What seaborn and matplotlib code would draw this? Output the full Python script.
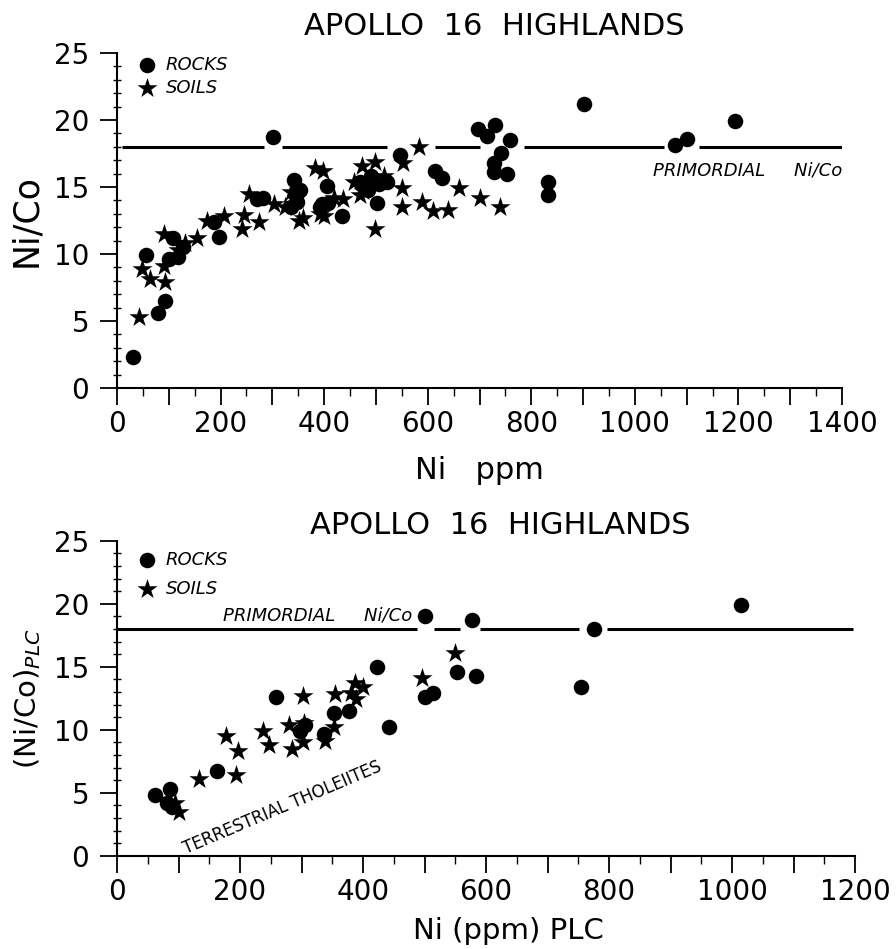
import matplotlib
matplotlib.use("Agg")
import matplotlib.pyplot as plt
import seaborn as sns
from matplotlib.ticker import MultipleLocator, FuncFormatter

# upper panel: Ni (ppm) vs Ni/Co
rock_ni = [30, 55, 80, 93, 101, 108, 117, 128, 187, 196, 270, 282, 301, 335, 341,
           345, 348, 354, 392, 396, 405, 408, 434, 470, 485, 490, 502, 506, 521,
           547, 614, 627, 697, 714, 730, 758, 742, 727, 727, 753, 833, 833, 901,
           1078, 1101, 1193]
rock_nico = [2.3, 9.9, 5.6, 6.5, 9.6, 11.2, 9.8, 10.5, 12.4, 11.3, 14.1, 14.2, 18.7,
             13.5, 15.5, 14.3, 13.9, 14.8, 13.5, 13.7, 15.1, 13.8, 12.8, 15.4, 14.8,
             15.8, 13.8, 15.2, 15.4, 17.4, 16.2, 15.7, 19.3, 18.8, 19.6, 18.5, 17.5,
             16.8, 16.1, 16.0, 15.4, 14.4, 21.2, 18.1, 18.6, 19.9]
soil_ni = [42, 48, 64, 90, 93, 90, 118, 132, 155, 174, 206, 241, 245, 254, 274, 303,
           325, 335, 351, 360, 383, 398, 392, 399, 419, 436, 457, 469, 473, 475, 499,
           498, 515, 550, 550, 553, 584, 589, 611, 640, 660, 701, 740]
soil_nico = [5.3, 8.9, 8.1, 9.1, 7.9, 11.5, 10.3, 10.8, 11.2, 12.5, 12.8, 11.9, 12.9,
             14.5, 12.4, 13.7, 13.5, 14.6, 12.5, 12.7, 16.4, 16.2, 13.0, 12.8, 14.2,
             14.1, 15.4, 14.4, 16.6, 14.7, 16.9, 11.9, 15.8, 14.9, 13.5, 16.8, 18.0,
             13.9, 13.2, 13.3, 14.9, 14.2, 13.5]

# lower panel: PLC values
plc_rock_ni = [61, 86, 81, 90, 163, 258, 298, 305, 336, 352, 377, 423, 443, 501, 501,
               514, 553, 584, 577, 754, 776, 1014]
plc_rock_nico = [4.8, 5.3, 4.2, 3.9, 6.7, 12.6, 9.9, 10.4, 9.7, 11.3, 11.5, 15.0, 10.2,
                 19.0, 12.6, 12.9, 14.6, 14.3, 18.7, 13.4, 18.0, 19.9]
plc_soil_ni = [95, 100, 133, 194, 178, 196, 238, 247, 279, 284, 303, 304, 302, 338,
               355, 352, 380, 387, 400, 389, 496, 550]
plc_soil_nico = [4.2, 3.5, 6.1, 6.4, 9.5, 8.3, 9.9, 8.8, 10.4, 8.5, 12.7, 10.5, 9.0,
                 9.1, 12.8, 10.2, 12.9, 13.7, 13.4, 12.4, 14.1, 16.1]

primordial = 18
# pieces of the primordial line (broken where points sit on it)
prim_top = [(9, 283), (318, 521), (614, 700), (785, 1057), (1123, 1400)]
prim_bot = [(0, 488), (515, 558), (591, 751), (797, 1197)]

sns.set_style("ticks", {"axes.edgecolor": "black", "xtick.color": "black",
                        "ytick.color": "black", "text.color": "black",
                        "axes.labelcolor": "black"})
plt.rcParams["font.family"] = ["DejaVu Sans"]

fig = plt.figure(figsize=(8.96, 9.49), dpi=100)
ax1 = fig.add_axes([0.1306, 0.5911, 0.8092, 0.3531])
ax2 = fig.add_axes([0.1306, 0.0983, 0.8237, 0.3319])


def style_axes(ax, xmax):
    ax.set_xlim(0, xmax)
    ax.set_ylim(0, 25)
    sns.despine(ax=ax)
    for s in ["left", "bottom"]:
        ax.spines[s].set_linewidth(1.5)
    ax.yaxis.set_major_locator(MultipleLocator(5))
    ax.yaxis.set_minor_locator(MultipleLocator(1))
    ax.xaxis.set_major_locator(MultipleLocator(100))
    ax.xaxis.set_minor_locator(MultipleLocator(50))
    ax.xaxis.set_major_formatter(FuncFormatter(lambda v, p: f"{int(v)}" if v % 200 == 0 else ""))
    ax.tick_params(axis="y", which="major", direction="out", length=12, width=1.3,
                   labelsize=20, pad=8)
    ax.tick_params(axis="y", which="minor", direction="inout", length=6, width=1)
    ax.tick_params(axis="x", which="major", direction="out", length=12, width=1.3,
                   labelsize=20, pad=4)
    ax.tick_params(axis="x", which="minor", direction="out", length=6, width=1)


def draw_points(ax, rn, rr, sn, sr):
    sns.scatterplot(x=rn, y=rr, marker="o", s=125, color="black", linewidth=0,
                    label="ROCKS", ax=ax, zorder=3)
    sns.scatterplot(x=sn, y=sr, marker="*", s=230, color="black", linewidth=0,
                    label="SOILS", ax=ax, zorder=3)


# ---- top panel
draw_points(ax1, rock_ni, rock_nico, soil_ni, soil_nico)
ax1.hlines([primordial] * len(prim_top), [a for a, b in prim_top], [b for a, b in prim_top],
           color="black", linewidth=2.2, zorder=2)
ax1.text(1400, 16.2, "PRIMORDIAL     Ni/Co", ha="right", va="center",
         fontsize=13, style="italic")
style_axes(ax1, 1400)
ax1.set_title("APOLLO  16  HIGHLANDS", fontsize=22, pad=13, x=0.52)
ax1.set_xlabel("Ni   ppm", fontsize=22, labelpad=13)
ax1.set_ylabel("Ni/Co", fontsize=25, labelpad=8)
ax1.legend(loc="upper left", bbox_to_anchor=(0.0, 1.04), frameon=False,
           prop={"style": "italic", "size": 13}, handlelength=1.5,
           handletextpad=0.3, labelspacing=0.3, borderaxespad=0.5)

# ---- bottom panel
draw_points(ax2, plc_rock_ni, plc_rock_nico, plc_soil_ni, plc_soil_nico)
ax2.hlines([primordial] * len(prim_bot), [a for a, b in prim_bot], [b for a, b in prim_bot],
           color="black", linewidth=2.2, zorder=2)
ax2.text(480, 19.1, "PRIMORDIAL     Ni/Co", ha="right", va="center",
         fontsize=13, style="italic")
ax2.text(269, 3.8, "TERRESTRIAL THOLEIITES", ha="center", va="center",
         rotation=23, rotation_mode="anchor", fontsize=12)
style_axes(ax2, 1200)
ax2.set_title("APOLLO  16  HIGHLANDS", fontsize=22, pad=5, x=0.52)
ax2.set_xlabel("Ni (ppm) PLC", fontsize=21)
ax2.xaxis.set_label_coords(0.53, -0.195)
ax2.set_ylabel("(Ni/Co)$_{PLC}$", fontsize=21, labelpad=8)
ax2.legend(loc="upper left", bbox_to_anchor=(0.0, 1.02), frameon=False,
           prop={"style": "italic", "size": 13}, handlelength=1.5,
           handletextpad=0.3, labelspacing=0.6, borderaxespad=0.5)

fig.savefig("out.png", dpi=100)
